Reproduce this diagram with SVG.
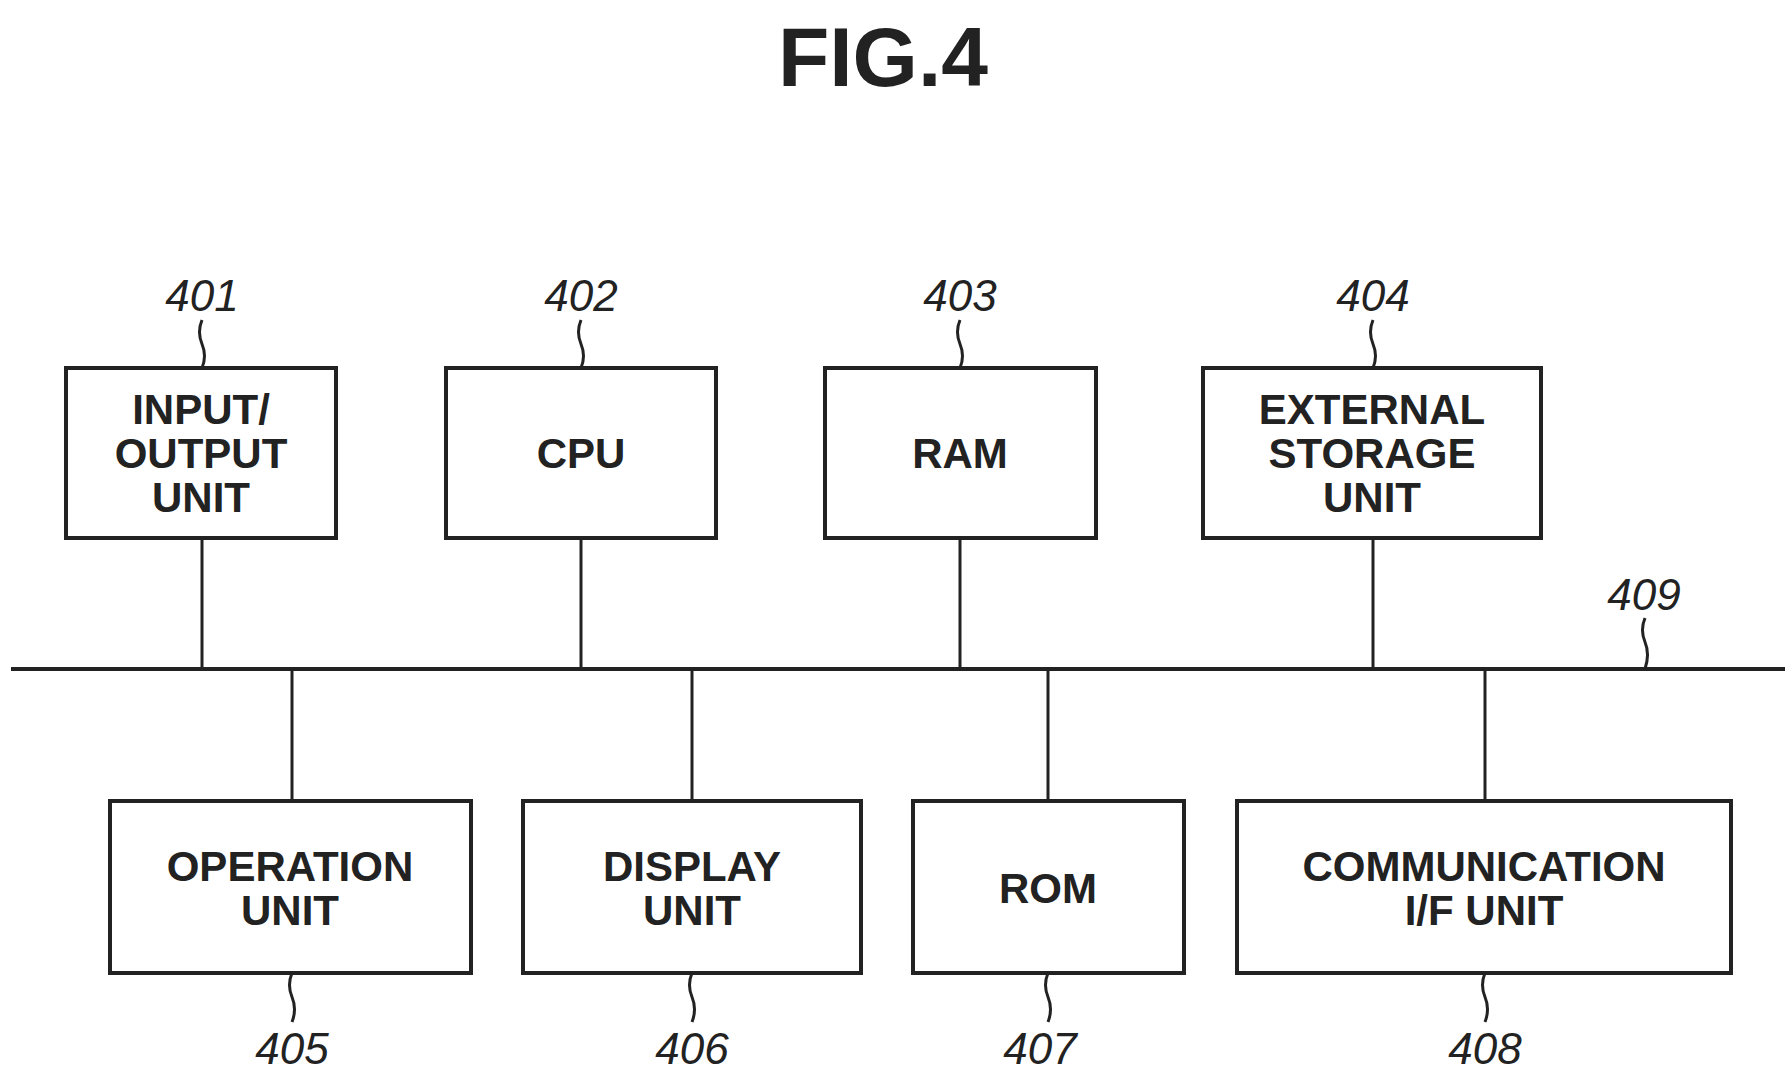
<svg xmlns="http://www.w3.org/2000/svg" width="1787" height="1074" viewBox="0 0 1787 1074">
<style>
.box{fill:#fff;stroke:#222;stroke-width:4}
.ln{fill:none;stroke:#222;stroke-width:3}
.t{font-family:"Liberation Sans",Arial,sans-serif;font-weight:bold;font-size:42px;fill:#222;text-anchor:middle}
.r{font-family:"Liberation Sans",Arial,sans-serif;font-style:italic;font-size:44px;fill:#222;text-anchor:middle}
</style>
<rect width="1787" height="1074" fill="#fff"/>
<text x="883" y="86" class="t" style="font-size:84px">FIG.4</text>
<g id="connectors">
<line class="ln" x1="11" y1="669" x2="1785" y2="669" style="stroke-width:4"/>
<line class="ln" x1="202" y1="538" x2="202" y2="669"/>
<line class="ln" x1="581" y1="538" x2="581" y2="669"/>
<line class="ln" x1="960" y1="538" x2="960" y2="669"/>
<line class="ln" x1="1373" y1="538" x2="1373" y2="669"/>
<line class="ln" x1="292" y1="669" x2="292" y2="801"/>
<line class="ln" x1="692" y1="669" x2="692" y2="801"/>
<line class="ln" x1="1048" y1="669" x2="1048" y2="801"/>
<line class="ln" x1="1485" y1="669" x2="1485" y2="801"/>
<path class="ln" d="M1645 618 q-5 12 0 24 q5 12 0 27"/>
</g>
<g id="n401"><rect class="box" x="66" y="368" width="270" height="170"/>
<text class="t" x="201" y="424">INPUT/</text><text class="t" x="201" y="468">OUTPUT</text><text class="t" x="201" y="512">UNIT</text>
<text class="r" x="202" y="311">401</text><path class="ln" d="M202 320 q-5 12 0 24 q5 12 0 24"/></g>
<g id="n402"><rect class="box" x="446" y="368" width="270" height="170"/>
<text class="t" x="581" y="468">CPU</text>
<text class="r" x="581" y="311">402</text><path class="ln" d="M581 320 q-5 12 0 24 q5 12 0 24"/></g>
<g id="n403"><rect class="box" x="825" y="368" width="271" height="170"/>
<text class="t" x="960" y="468">RAM</text>
<text class="r" x="960" y="311">403</text><path class="ln" d="M960 320 q-5 12 0 24 q5 12 0 24"/></g>
<g id="n404"><rect class="box" x="1203" y="368" width="338" height="170"/>
<text class="t" x="1372" y="424">EXTERNAL</text><text class="t" x="1372" y="468">STORAGE</text><text class="t" x="1372" y="512">UNIT</text>
<text class="r" x="1373" y="311">404</text><path class="ln" d="M1373 320 q-5 12 0 24 q5 12 0 24"/></g>
<g id="n409"><text class="r" x="1644" y="610">409</text></g>
<g id="n405"><rect class="box" x="110" y="801" width="361" height="172"/>
<text class="t" x="290" y="881">OPERATION</text><text class="t" x="290" y="925">UNIT</text>
<path class="ln" d="M292 973 q-5 12 0 24 q5 12 0 25"/><text class="r" x="292" y="1064">405</text></g>
<g id="n406"><rect class="box" x="523" y="801" width="338" height="172"/>
<text class="t" x="692" y="881">DISPLAY</text><text class="t" x="692" y="925">UNIT</text>
<path class="ln" d="M692 973 q-5 12 0 24 q5 12 0 25"/><text class="r" x="692" y="1064">406</text></g>
<g id="n407"><rect class="box" x="913" y="801" width="271" height="172"/>
<text class="t" x="1048" y="903">ROM</text>
<path class="ln" d="M1048 973 q-5 12 0 24 q5 12 0 25"/><text class="r" x="1040" y="1064">407</text></g>
<g id="n408"><rect class="box" x="1237" y="801" width="494" height="172"/>
<text class="t" x="1484" y="881">COMMUNICATION</text><text class="t" x="1484" y="925">I/F UNIT</text>
<path class="ln" d="M1485 973 q-5 12 0 24 q5 12 0 25"/><text class="r" x="1485" y="1064">408</text></g>
</svg>
